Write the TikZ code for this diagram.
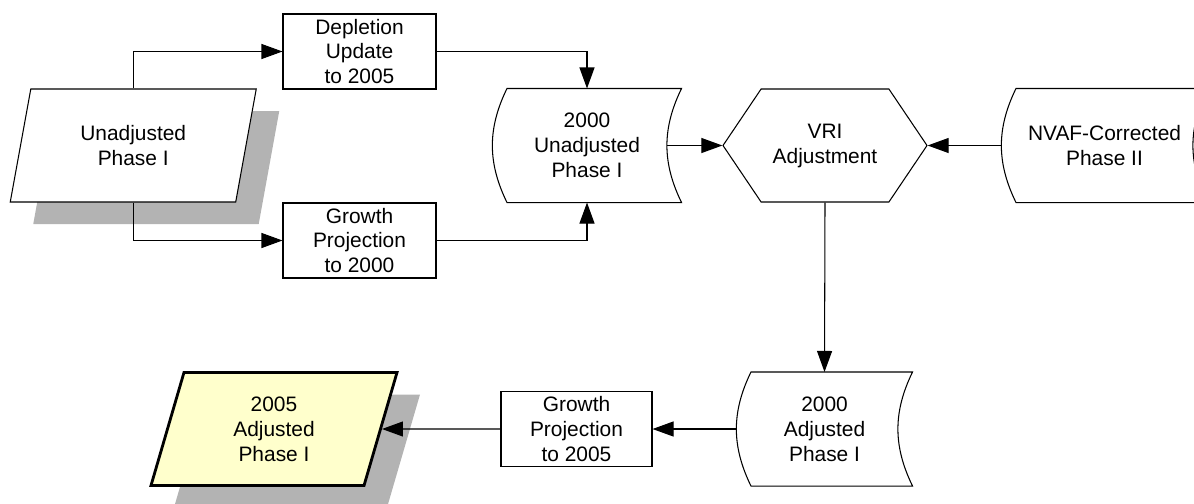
\documentclass[tikz,border=0pt]{standalone}
\usepackage{fontspec}
\setmainfont{Liberation Sans}
\usetikzlibrary{shapes,arrows.meta,positioning,shadows}
\definecolor{shadowgray}{RGB}{179,179,179}
\definecolor{resultyellow}{RGB}{255,255,204}

\tikzset{
  proc/.style={draw, rectangle, minimum width=3.06cm, minimum height=1.5cm, align=center, inner sep=0pt},
  dataio/.style={trapezium, trapezium left angle=63, trapezium right angle=117,
    trapezium stretches body, draw, fill=white, minimum width=4.92cm, minimum height=2.26cm,
    align=center, inner sep=0pt,
    drop shadow={shadow xshift=0.46cm, shadow yshift=-0.44cm, fill=shadowgray, opacity=1}},
  stored/.style={rectangle, minimum height=2.26cm, align=center, inner sep=0pt},
  prep/.style={signal, signal to=east and west, signal pointer angle=112, draw,
    minimum width=4.08cm, minimum height=2.26cm, align=center, inner sep=0pt},
  flow/.style={-{Triangle[length=0.42cm,width=0.3cm]}},
}

% outline of a stored-data symbol drawn round a named node
\newcommand{\storedoutline}[1]{%
  \draw ([xshift=0.29cm]#1.north west) -- (#1.north east)
    to[bend right=26] (#1.south east) -- ([xshift=0.29cm]#1.south west)
    to[bend left=26] ([xshift=0.29cm]#1.north west) -- cycle;}

\begin{document}
\begin{tikzpicture}[line width=0.6pt, every node/.style={font=\fontsize{11.9}{14.2}\selectfont}]
\useasboundingbox (0,0) rectangle (23.88,10.06);

\node[dataio] (unadj) at (2.665,7.15) {Unadjusted\\Phase I};
\node[proc] (depl) at (7.19,9.03) {Depletion\\Update\\to 2005};
\node[proc] (gp2000) at (7.19,5.25) {Growth\\Projection\\to 2000};
\node[stored, minimum width=3.76cm] (unadj2000) at (11.74,7.15) {2000\\Unadjusted\\Phase I};
\storedoutline{unadj2000}
\node[prep] (vri) at (16.5,7.15) {VRI\\Adjustment};
\node[stored, minimum width=4.1cm] (nvaf) at (22.09,7.15) {NVAF-Corrected\\Phase II};
\storedoutline{nvaf}
\node[stored, minimum width=3.5cm] (adj2000) at (16.49,1.48) {2000\\Adjusted\\Phase I};
\storedoutline{adj2000}
\node[proc, minimum width=3.02cm] (gp2005) at (11.53,1.48) {Growth\\Projection\\to 2005};
\node[dataio, fill=resultyellow, line width=1.6pt] (adj2005) at (5.48,1.48) {2005\\Adjusted\\Phase I};

% connectors
\draw[flow] (unadj.north) |- (depl.west);
\draw[flow] (unadj.south) |- (gp2000.west);
\draw[flow] (depl.east) -| (unadj2000.north);
\draw[flow] (gp2000.east) -| (unadj2000.south);
\draw[flow] ([xshift=-0.29cm]unadj2000.east) -- (vri.west);
\draw[flow] (nvaf.west) -- (vri.east);
\draw[flow] (vri.south) -- (adj2000.north);
\draw[flow] (adj2000.west) -- (gp2005.east);
\draw[flow] (gp2005.west) -- (adj2005);
\end{tikzpicture}
\end{document}
